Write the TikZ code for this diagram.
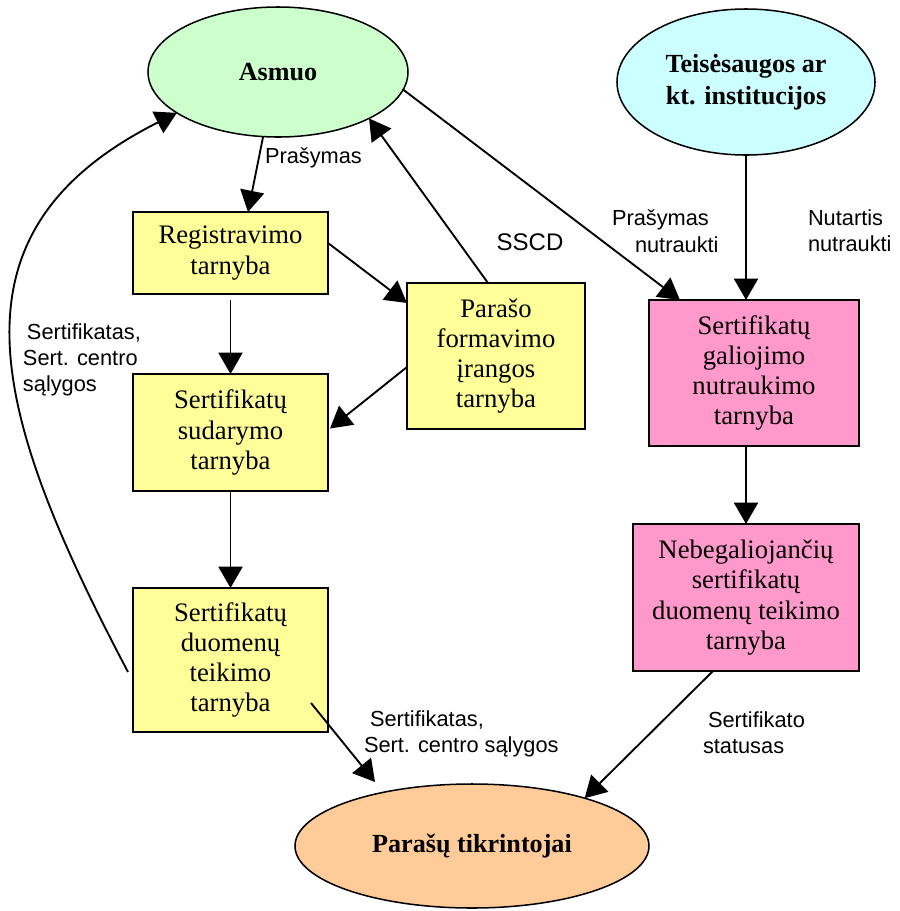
\documentclass[tikz,border=0pt]{standalone}
\usepackage{fontspec}
\setmainfont{Liberation Serif}
\newfontfamily\labelfont{Liberation Sans}
\usetikzlibrary{shapes.geometric,arrows.meta}

\definecolor{asmuofill}{RGB}{204,255,204}
\definecolor{teisfill}{RGB}{204,255,255}
\definecolor{boxfill}{RGB}{255,255,153}
\definecolor{pinkfill}{RGB}{255,153,204}
\definecolor{checkfill}{RGB}{255,204,153}

\begin{document}
\begin{tikzpicture}[x=0.03cm,y=-0.03cm,
  every node/.style={inner sep=0pt,outer sep=0pt},
  actor/.style={ellipse,draw=black,line width=1.3pt,align=center,
    font=\fontsize{22.3}{27}\selectfont\bfseries},
  service/.style={rectangle,draw=black,line width=1.3pt,align=center,
    font=\fontsize{22.8}{25.8}\selectfont},
  flowlabel/.style={font=\labelfont\fontsize{18.6}{22.5}\selectfont,align=left,anchor=west},
  flow/.style={line width=1.6pt,-{Triangle[length=0.64cm,width=0.72cm]}}]

\useasboundingbox (0,0) rectangle (900,911);

% parties
\node[actor,fill=asmuofill,minimum width=7.8cm,minimum height=3.9cm] (asmuo) at (278,72) {Asmuo};
\node[actor,fill=teisfill,minimum width=7.74cm,minimum height=4.38cm] (teis) at (746,82) {Teisėsaugos ar\\kt. institucijos};
\node[actor,fill=checkfill,minimum width=10.62cm,minimum height=3.72cm] (tikr) at (472,846) {Parašų tikrintojai};

% services
\node[service,fill=boxfill,minimum width=5.85cm,minimum height=2.46cm] (reg) at (230.5,253) {Registravimo\\tarnyba};
\node[service,fill=boxfill,minimum width=5.34cm,minimum height=4.38cm] (sscd) at (496,356) {Parašo\\formavimo\\įrangos\\tarnyba};
\node[service,fill=boxfill,minimum width=5.85cm,minimum height=3.51cm] (sud) at (230.5,432.5) {Sertifikatų\\sudarymo\\tarnyba};
\node[service,fill=boxfill,minimum width=5.85cm,minimum height=4.32cm] (duom) at (230.5,660) {Sertifikatų\\duomenų\\teikimo\\tarnyba};
\node[service,fill=pinkfill,minimum width=6.3cm,minimum height=4.38cm] (gal) at (754,373) {Sertifikatų\\galiojimo\\nutraukimo\\tarnyba};
\node[service,fill=pinkfill,minimum width=6.78cm,minimum height=4.41cm] (neb) at (746,597.5) {Nebegaliojančių\\sertifikatų\\duomenų teikimo\\tarnyba};

% flows
\draw[flow] (asmuo.257.6) -- ([xshift=0.525cm]reg.north);
\draw[flow] ([xshift=-0.24cm]sscd.north) -- (asmuo.333.9);
\draw[flow] (asmuo.352) -- ([xshift=0.93cm]gal.north west);
\draw[flow] (teis.south) -- (teis.south |- gal.north);
\draw[flow] ([yshift=0.3cm]reg.east) -- ([yshift=-0.6cm]sscd.north west);
\draw[flow] ([yshift=-0.33cm]sscd.west) -- ([xshift=0.06cm,yshift=0.12cm]sud.east);
\draw[flow,shorten <=0.18cm] (reg.south) -- (sud.north);
\draw[flow] (sud.south) -- (duom.north);
\draw[flow] ([xshift=-0.15cm,yshift=-0.36cm]duom.west)
  .. controls (-10,410) and (-60,232) .. (asmuo.202);
\draw[flow] ([xshift=-0.51cm,yshift=0.87cm]duom.south east) -- ([xshift=-2.91cm,yshift=0.06cm]tikr.north);
\draw[flow] (neb.north |- gal.south) -- (neb.north);
\draw[flow] ([xshift=-0.99cm]neb.south) -- (tikr.23.1);

% flow labels
\node[flowlabel] (lprasymas) at (265,158) {Prašymas};
\node[flowlabel,font=\labelfont\fontsize{20.5}{24}\selectfont,anchor=center] (lsscd) at (530,242) {SSCD};
\node[flowlabel] (lnutraukti) at (612,231) {Prašymas\\\hspace*{0.69cm}nutraukti};
\node[flowlabel] (lnutartis) at (808,231) {Nutartis\\nutraukti};
\node[flowlabel] (lsert) at (23,360) {\hspace*{0.12cm}Sertifikatas,\\Sert. centro\\sąlygos};
\node[flowlabel] (lsert2) at (364,734) {\hspace*{0.18cm}Sertifikatas,\\Sert. centro sąlygos};
\node[flowlabel] (lstatus) at (703,733) {\hspace*{0.15cm}Sertifikato\\statusas};

\end{tikzpicture}
\end{document}
